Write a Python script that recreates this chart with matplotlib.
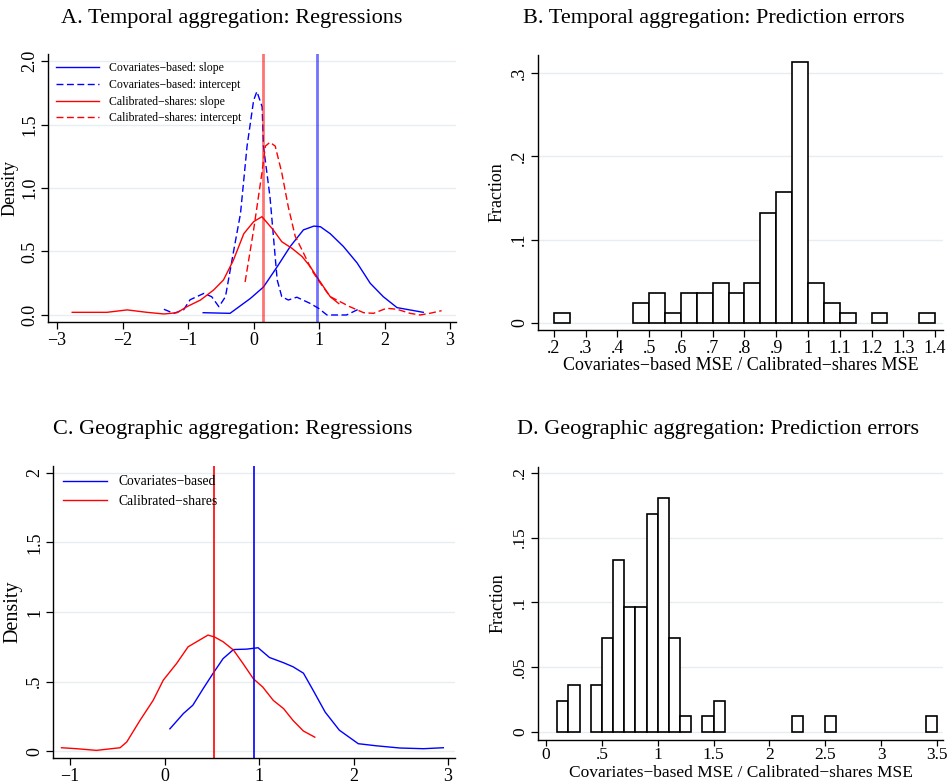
import numpy as np
import matplotlib
matplotlib.use("Agg")
import matplotlib.pyplot as plt

plt.rcParams['font.family'] = ['Liberation Serif', 'DejaVu Serif']

# ---- Panel A: temporal aggregation, kernel densities ----
cov_slope_x = [-0.77, -0.36, -0.05, 0.15, 0.36, 0.56, 0.76, 0.92, 1.02, 1.17, 1.37, 1.58, 1.78, 1.98, 2.19, 2.59]
cov_slope_y = [0.018, 0.013, 0.13, 0.22, 0.38, 0.54, 0.67, 0.70, 0.695, 0.64, 0.54, 0.41, 0.25, 0.144, 0.058, 0.021]

cov_int_x = [-1.37, -1.22, -1.07, -0.97, -0.76, -0.64, -0.53, -0.43, -0.31, -0.2, -0.1, 0.0, 0.05, 0.13,
             0.15, 0.25, 0.36, 0.43, 0.53, 0.66, 0.86, 0.99, 1.12, 1.42, 1.6]
cov_int_y = [0.045, 0.013, 0.04, 0.12, 0.17, 0.144, 0.065, 0.144, 0.49, 0.8, 1.33, 1.69, 1.76, 1.64,
             1.33, 0.93, 0.276, 0.144, 0.118, 0.14, 0.092, 0.053, 0.0, 0.0, 0.045]

cal_slope_x = [-2.77, -2.24, -1.93, -1.63, -1.37, -1.17, -1.02, -0.81, -0.61, -0.46, -0.31, -0.15, 0.0, 0.127,
               0.3, 0.43, 0.585, 0.74, 0.866, 0.966, 1.07, 1.17, 1.3]
cal_slope_y = [0.021, 0.021, 0.04, 0.021, 0.008, 0.018, 0.065, 0.118, 0.197, 0.276, 0.43, 0.64, 0.735, 0.774,
               0.67, 0.577, 0.525, 0.46, 0.38, 0.30, 0.22, 0.144, 0.09]

cal_int_x = [-0.13, 0.0, 0.127, 0.18, 0.25, 0.33, 0.43, 0.53, 0.635, 0.76, 0.89, 1.02, 1.17, 1.32, 1.47,
             1.68, 1.83, 2.03, 2.19, 2.39, 2.54, 2.69, 2.87]
cal_int_y = [0.26, 0.67, 1.12, 1.33, 1.36, 1.33, 1.12, 0.85, 0.62, 0.49, 0.35, 0.25, 0.144, 0.105, 0.065,
             0.018, 0.013, 0.053, 0.045, 0.013, 0.0, 0.013, 0.034]

a_vline_cal = 0.15
a_vline_cov = 0.965

# ---- Panel B: temporal prediction error histogram ----
b_bin_left = [0.20, 0.45, 0.50, 0.55, 0.60, 0.65, 0.70, 0.75, 0.80, 0.85, 0.90, 0.95, 1.00, 1.05, 1.10, 1.20, 1.35]
b_counts = [1, 2, 3, 1, 3, 3, 4, 3, 4, 11, 13, 26, 4, 2, 1, 1, 1]
b_width = 0.05

# ---- Panel C: geographic aggregation, kernel densities ----
geo_cal_x = [-1.09, -0.93, -0.72, -0.47, -0.40, -0.26, -0.12, -0.013, 0.128, 0.25, 0.34, 0.46, 0.53, 0.62,
             0.73, 0.83, 0.94, 1.04, 1.15, 1.26, 1.36, 1.47, 1.59]
geo_cal_y = [0.024, 0.017, 0.005, 0.024, 0.065, 0.22, 0.365, 0.51, 0.63, 0.75, 0.786, 0.834, 0.82, 0.786,
             0.726, 0.63, 0.52, 0.46, 0.365, 0.305, 0.22, 0.144, 0.10]

geo_cov_x = [0.057, 0.2, 0.30, 0.41, 0.515, 0.62, 0.73, 0.87, 0.99, 1.11, 1.26, 1.36, 1.47, 1.57, 1.70,
             1.85, 2.05, 2.24, 2.49, 2.74, 2.95]
geo_cov_y = [0.16, 0.27, 0.33, 0.45, 0.56, 0.665, 0.73, 0.733, 0.743, 0.673, 0.635, 0.606, 0.56, 0.44, 0.28,
             0.15, 0.053, 0.038, 0.022, 0.017, 0.024]

c_vline_cal = 0.525
c_vline_cov = 0.95

# ---- Panel D: geographic prediction error histogram ----
d_bin_left = [0.1, 0.2, 0.4, 0.5, 0.6, 0.7, 0.8, 0.9, 1.0, 1.1, 1.2, 1.4, 1.5, 2.2, 2.5, 3.4]
d_counts = [2, 3, 3, 6, 11, 8, 8, 14, 15, 6, 1, 1, 2, 1, 1, 1]
d_width = 0.1

grid_col = '#e8eef0'
xlab = 'Covariates\u2212based MSE / Calibrated\u2212shares MSE'


def style(ax, yticks, ylabels, xticks, xlabels, fs=13):
    ax.spines['top'].set_visible(False)
    ax.spines['right'].set_visible(False)
    for s in ['left', 'bottom']:
        ax.spines[s].set_linewidth(1.0)
    ax.set_yticks(yticks)
    ax.set_yticklabels(ylabels, rotation=90, va='center', fontsize=fs)
    ax.set_xticks(xticks)
    ax.set_xticklabels(xlabels, fontsize=fs)
    ax.tick_params(direction='out', length=5, width=0.9, pad=2)
    ax.yaxis.grid(True, color=grid_col, lw=1.0)
    ax.set_axisbelow(True)


fig = plt.figure(figsize=(9.48, 7.83), dpi=100)

# Panel A
axA = fig.add_axes([0.0506, 0.5888, 0.4304, 0.3422])
axA.plot(cov_slope_x, cov_slope_y, color='blue', lw=1.0, label='Covariates\u2212based: slope')
axA.plot(cov_int_x, cov_int_y, color='blue', lw=1.0, ls=(0, (5, 2.5)), label='Covariates\u2212based: intercept')
axA.plot(cal_slope_x, cal_slope_y, color='red', lw=1.0, label='Calibrated\u2212shares: slope')
axA.plot(cal_int_x, cal_int_y, color='red', lw=1.0, ls=(0, (5, 2.5)), label='Calibrated\u2212shares: intercept')
axA.axvline(a_vline_cal, color='red', alpha=0.55, lw=2.0)
axA.axvline(a_vline_cov, color='blue', alpha=0.55, lw=2.0)
axA.set_xlim(-3.14, 3.09)
axA.set_ylim(-0.055, 2.055)
style(axA, [0, 0.5, 1.0, 1.5, 2.0], ['0.0', '0.5', '1.0', '1.5', '2.0'],
      [-3, -2, -1, 0, 1, 2, 3], ['\u22123', '\u22122', '\u22121', '0', '1', '2', '3'])
axA.set_ylabel('Density', fontsize=13, labelpad=2)
axA.legend(loc='upper left', frameon=False, fontsize=8.5, handlelength=3.6,
           labelspacing=0.4, borderaxespad=0.3, handletextpad=0.9)

# Panel B
axB = fig.add_axes([0.5675, 0.5785, 0.4272, 0.3513])
b_frac = np.array(b_counts) / np.sum(b_counts)
axB.bar(b_bin_left, b_frac, width=b_width, align='edge', color='white', edgecolor='black', lw=1.2)
axB.set_xlim(0.15, 1.425)
axB.set_ylim(-0.0084, 0.3216)
style(axB, [0, 0.1, 0.2, 0.3], ['0', '.1', '.2', '.3'],
      np.round(np.arange(0.2, 1.41, 0.1), 1),
      ['.2', '.3', '.4', '.5', '.6', '.7', '.8', '.9', '1', '1.1', '1.2', '1.3', '1.4'])
axB.set_ylabel('Fraction', fontsize=13, labelpad=4)
axB.set_xlabel(xlab, fontsize=13, labelpad=0)

# Panel C
axC = fig.add_axes([0.0559, 0.0319, 0.4241, 0.373])
axC.plot(geo_cov_x, geo_cov_y, color='blue', lw=1.0, label='Covariates\u2212based')
axC.plot(geo_cal_x, geo_cal_y, color='red', lw=1.0, label='Calibrated\u2212shares')
axC.axvline(c_vline_cal, color='red', lw=1.2)
axC.axvline(c_vline_cov, color='blue', lw=1.2)
axC.set_xlim(-1.18, 3.074)
axC.set_ylim(-0.05, 2.05)
style(axC, [0, 0.5, 1, 1.5, 2], ['0', '.5', '1', '1.5', '2'],
      [-1, 0, 1, 2, 3], ['\u22121', '0', '1', '2', '3'])
axC.set_ylabel('Density', fontsize=14.5, labelpad=3)
axC.legend(loc='upper left', frameon=False, fontsize=9.8, handlelength=3.3,
           labelspacing=0.45, borderaxespad=0.3, handletextpad=0.8)

# Panel D
axD = fig.add_axes([0.5675, 0.0553, 0.4272, 0.3483])
d_frac = np.array(d_counts) / np.sum(d_counts)
axD.bar(d_bin_left, d_frac, width=d_width, align='edge', color='white', edgecolor='black', lw=1.2)
axD.set_xlim(-0.072, 3.554)
axD.set_ylim(-0.006, 0.2046)
style(axD, [0, 0.05, 0.1, 0.15, 0.2], ['0', '.05', '.1', '.15', '.2'],
      [0, 0.5, 1, 1.5, 2, 2.5, 3, 3.5], ['0', '.5', '1', '1.5', '2', '2.5', '3', '3.5'], fs=12.5)
axD.tick_params(axis='x', pad=1, length=4)
axD.set_ylabel('Fraction', fontsize=13, labelpad=4)
fig.text(0.7811, 0.002, xlab, ha='center', va='bottom', fontsize=12.5)

fig.text(0.244, 0.977, 'A. Temporal aggregation: Regressions', ha='center', va='center', fontsize=16)
fig.text(0.753, 0.977, 'B. Temporal aggregation: Prediction errors', ha='center', va='center', fontsize=16)
fig.text(0.245, 0.452, 'C. Geographic aggregation: Regressions', ha='center', va='center', fontsize=16)
fig.text(0.757, 0.452, 'D. Geographic aggregation: Prediction errors', ha='center', va='center', fontsize=16)

fig.savefig('out.png', dpi=100)
